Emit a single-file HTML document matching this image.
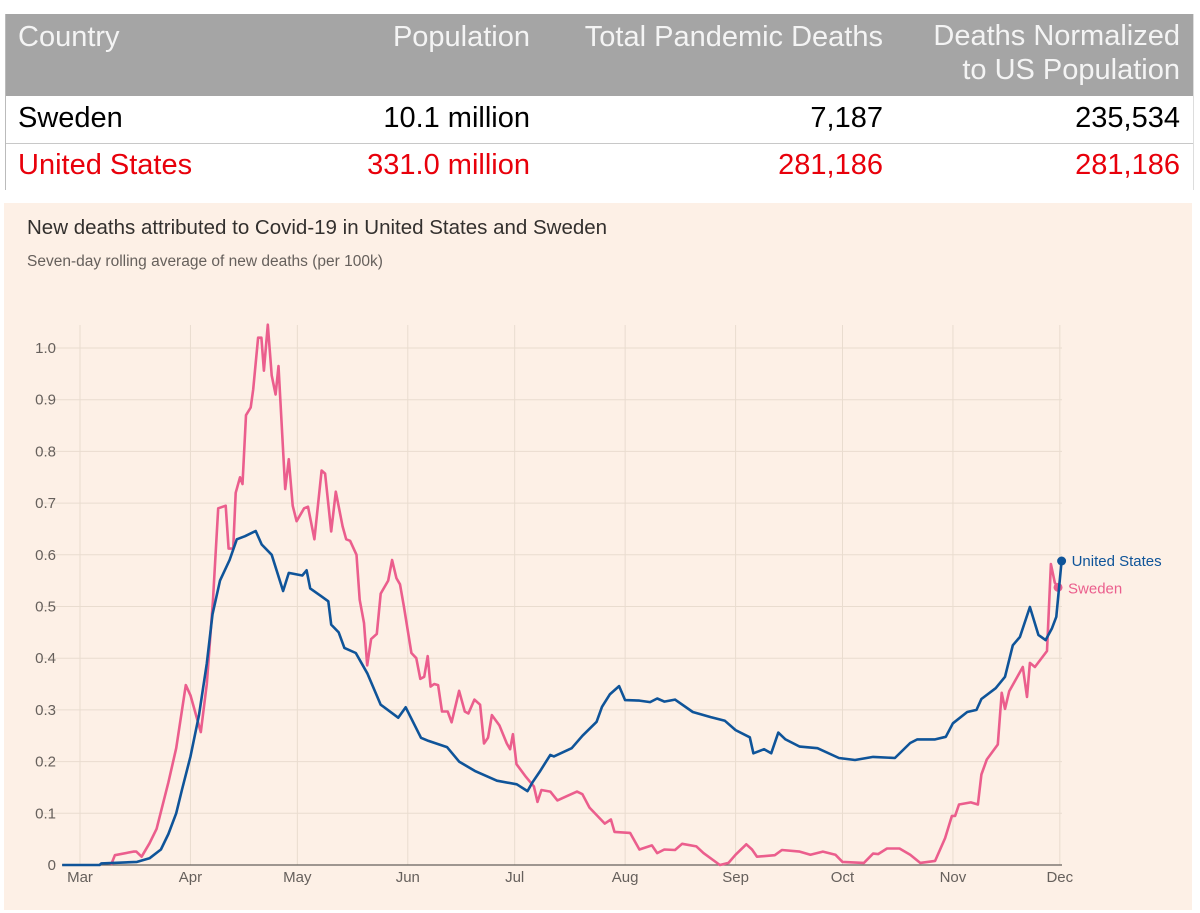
<!DOCTYPE html>
<html><head><meta charset="utf-8">
<style>
body{margin:0;width:1200px;height:913px;background:#fff;position:relative;overflow:hidden;font-family:"Liberation Sans",sans-serif}
.t{position:absolute;font-size:29px;white-space:nowrap;line-height:1}
.r{text-align:right}
</style></head><body>
<div style="position:absolute;left:5px;top:14px;width:1187px;height:176px;border-left:1px solid #bbb;border-right:1px solid #ddd">
  <div style="position:absolute;left:0;top:0;width:1187px;height:82px;background:#a5a5a5"></div>
  <div style="position:absolute;left:0;top:129px;width:1187px;height:1px;background:#c8c8c8"></div>
</div>
<div class="t" style="left:18px;top:23px;color:#f4f4f4">Country</div>
<div class="t r" style="right:670px;top:23px;color:#f4f4f4">Population</div>
<div class="t r" style="right:317px;top:23px;color:#f4f4f4">Total Pandemic Deaths</div>
<div class="t r" style="right:20px;top:23px;color:#f4f4f4;line-height:34px;margin-top:-4px">Deaths Normalized<br>to US Population</div>
<div class="t" style="left:18px;top:104px;color:#000">Sweden</div>
<div class="t r" style="right:670px;top:104px;color:#000">10.1 million</div>
<div class="t r" style="right:317px;top:104px;color:#000">7,187</div>
<div class="t r" style="right:20px;top:104px;color:#000">235,534</div>
<div class="t" style="left:18px;top:151px;color:#e8000b">United States</div>
<div class="t r" style="right:670px;top:151px;color:#e8000b">331.0 million</div>
<div class="t r" style="right:317px;top:151px;color:#e8000b">281,186</div>
<div class="t r" style="right:20px;top:151px;color:#e8000b">281,186</div>

<div style="position:absolute;left:4px;top:203px;width:1188px;height:707px;background:#fdf0e6"></div>
<div style="position:absolute;left:27px;top:216px;font-size:20.5px;color:#33302e;white-space:nowrap">New deaths attributed to Covid-19 in United States and Sweden</div>
<div style="position:absolute;left:27px;top:253px;font-size:15.5px;color:#66605c;white-space:nowrap">Seven-day rolling average of new deaths (per 100k)</div>

<svg id="chart" width="1200" height="913" style="position:absolute;left:0;top:0"></svg>
<script>
const yTicks=[0,0.1,0.2,0.3,0.4,0.5,0.6,0.7,0.8,0.9,1.0];
const yTickLabels=["0","0.1","0.2","0.3","0.4","0.5","0.6","0.7","0.8","0.9","1.0"];
const monthDays=[0,31,61,92,122,153,184,214,245,275];
const monthLabels=["Mar","Apr","May","Jun","Jul","Aug","Sep","Oct","Nov","Dec"];
const usDays=[-5,5.5,6,16,19.5,22.7,24.8,27,28.6,31,33.4,35.6,37.2,39.3,42,44,46.3,49.3,51,53.8,57,58.6,62.4,63.6,64.6,67.7,69.7,70.5,72.6,74.2,77.4,80.7,84.4,89.3,91.4,95.7,97.8,103,106.4,110.8,117,122.6,125.6,127,129,132,133,138,141,145,146.5,148.7,151.3,153,157,160,162,164,167,172,177,181,184,188,189,192,194,196,198,202,207,213,217.5,222.6,228.7,233,235,240,243,245,249,251.6,253,257,259.6,261.8,263.8,266.6,269,271,272.8,274,275.5];
const usValues=[0,0,0.003,0.006,0.013,0.03,0.06,0.1,0.145,0.21,0.29,0.39,0.485,0.55,0.59,0.63,0.636,0.646,0.62,0.6,0.53,0.565,0.56,0.57,0.535,0.52,0.51,0.465,0.45,0.42,0.41,0.37,0.31,0.285,0.305,0.246,0.24,0.228,0.2,0.182,0.163,0.156,0.143,0.16,0.18,0.213,0.21,0.226,0.25,0.277,0.306,0.33,0.346,0.319,0.318,0.315,0.322,0.316,0.32,0.296,0.286,0.279,0.261,0.247,0.216,0.224,0.216,0.256,0.243,0.229,0.226,0.207,0.203,0.209,0.207,0.236,0.243,0.243,0.248,0.274,0.296,0.3,0.321,0.342,0.364,0.425,0.441,0.499,0.445,0.435,0.458,0.48,0.588];
const seDays=[8.7,9.8,15,15.8,17.3,19.5,21.5,24.8,27,29.7,31,33.9,35.6,37.3,38.8,40.9,41.7,43,43.7,44.9,45.6,46.6,47.9,48.6,50,50.9,51.6,52.7,53.8,54.9,55.7,57.6,58.6,59.7,60.8,62.9,64,65.8,67.8,68.8,70.5,71.8,73.7,74.7,75.8,77.6,78.5,79.7,80.6,81.7,83.3,84.4,86.5,87.6,88.8,89.8,90.9,91.6,93,94.4,95.5,96.6,97.6,98.4,99.4,100.5,101.6,103.2,104.3,106.4,108,109,110.7,112.3,113.4,114.5,115.6,117.7,119.8,120.7,121.5,122.5,125.2,127.4,128.4,129.5,132,134,136.6,139.5,141,143,147.3,149,150,154.4,157,160.5,162,164,167,169,173,175,179.6,182,184,187,188.6,190,195,197,202,205,208.5,212,214,220,222.6,224,226.5,230,233,235.8,240,242.8,244.7,245.6,246.7,250,252,253,254.5,257.6,258.7,259.6,260.8,264.6,265.8,266.6,268,271.4,272.5,273.6,274.5];
const seValues=[0,0.019,0.026,0.026,0.016,0.042,0.07,0.16,0.226,0.348,0.328,0.257,0.35,0.51,0.69,0.695,0.612,0.612,0.72,0.75,0.737,0.87,0.885,0.92,1.02,1.02,0.956,1.045,0.947,0.91,0.965,0.727,0.785,0.695,0.665,0.69,0.693,0.63,0.763,0.757,0.645,0.722,0.655,0.63,0.627,0.6,0.513,0.468,0.386,0.437,0.447,0.525,0.55,0.59,0.555,0.543,0.5,0.47,0.41,0.4,0.36,0.364,0.404,0.345,0.35,0.348,0.297,0.297,0.276,0.337,0.297,0.293,0.32,0.31,0.235,0.246,0.29,0.27,0.235,0.224,0.253,0.195,0.17,0.152,0.122,0.145,0.142,0.125,0.133,0.142,0.137,0.111,0.08,0.088,0.064,0.062,0.03,0.038,0.023,0.03,0.029,0.041,0.036,0.023,0,0.004,0.02,0.04,0.03,0.016,0.019,0.029,0.026,0.02,0.026,0.02,0.006,0.004,0.022,0.021,0.032,0.032,0.02,0.004,0.008,0.052,0.095,0.095,0.117,0.121,0.117,0.175,0.204,0.233,0.333,0.302,0.336,0.383,0.325,0.391,0.383,0.414,0.582,0.546,0.537];

const NS="http://www.w3.org/2000/svg";
const svg=document.getElementById('chart');
const X=d=>80+d*3.563;
const Y=v=>865-v*517;
function mk(tag,attrs){const e=document.createElementNS(NS,tag);for(const k in attrs)e.setAttribute(k,attrs[k]);svg.appendChild(e);return e;}

monthDays.forEach((d,i)=>{
  const g=mk('line',{x1:X(d),x2:X(d),y1:325,y2:865,stroke:'#e9dccf','stroke-width':1});
  
  
  const t=mk('text',{x:X(d),y:882,'text-anchor':'middle','font-size':15,fill:'#66605c','font-family':'Liberation Sans, sans-serif'});
  t.textContent=monthLabels[i];
  
  
});
yTicks.forEach((v,i)=>{
  if(v>0){const g=mk('line',{x1:40,x2:1062,y1:Y(v),y2:Y(v),stroke:'#e9dccf','stroke-width':1});
  
  }
  const t=mk('text',{x:56,y:Y(v)+5,'text-anchor':'end','font-size':15,fill:'#66605c','font-family':'Liberation Sans, sans-serif'});
  t.textContent=yTickLabels[i];
  
  
});
const ax=mk('line',{x1:62,x2:1062,y1:865,y2:865,stroke:'#66605c','stroke-width':1.2});



function series(days,vals,color,name){
  const p=mk('polyline',{points:days.map((d,i)=>X(d).toFixed(1)+','+Y(vals[i]).toFixed(1)).join(' '),fill:'none',stroke:color,'stroke-width':2.6,'stroke-linejoin':'round'});
  
  
  const n=days.length-1;
  const c=mk('circle',{cx:X(days[n]),cy:Y(vals[n]),r:4.5,fill:color});
  
  
  return c;
}
series(seDays,seValues,'#eb5e8d','sweden');
series(usDays,usValues,'#0f5499','united-states');
const l1=mk('text',{x:X(usDays[usDays.length-1])+10,y:Y(usValues[usValues.length-1])+5,'font-size':15,fill:'#0f5499','font-family':'Liberation Sans, sans-serif'});
l1.textContent='United States';


const l2=mk('text',{x:X(seDays[seDays.length-1])+10,y:Y(seValues[seValues.length-1])+6,'font-size':15,fill:'#eb5e8d','font-family':'Liberation Sans, sans-serif'});
l2.textContent='Sweden';


</script>
</body></html>
